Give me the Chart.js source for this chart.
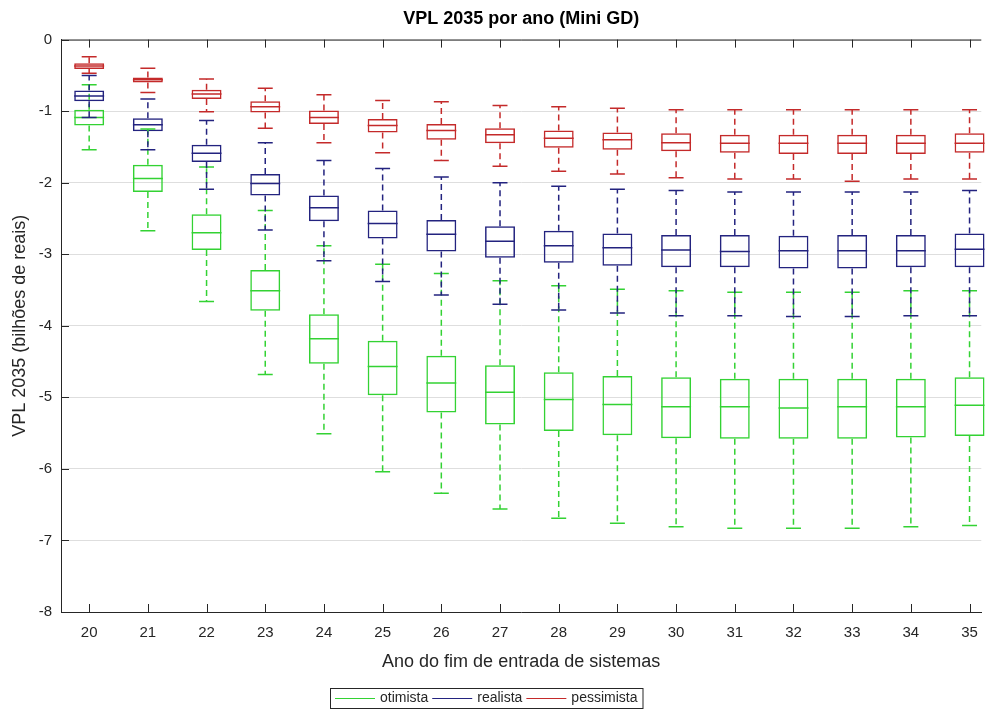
<!DOCTYPE html>
<html>
<head>
<meta charset="utf-8">
<title>VPL 2035 por ano (Mini GD)</title>
<script src="https://cdn.jsdelivr.net/npm/chart.js@4.4.1/dist/chart.umd.min.js"></script>
<style>
    body { margin: 0; background: #fff; }
    #wrap { width: 990px; height: 711px; }
</style>
</head>
<body>
<div id="wrap"><canvas id="boxChart" width="990" height="711"></canvas></div>
<script>
// Ano do fim de entrada de sistemas (eixo x)
const years = [20, 21, 22, 23, 24, 25, 26, 27, 28, 29, 30, 31, 32, 33, 34, 35];
const yTicks = [0, -1, -2, -3, -4, -5, -6, -7, -8];

// otimista (verde)
const otimistaMax = [-0.63, -1.25, -1.78, -2.39, -2.88, -3.14, -3.27, -3.37, -3.44, -3.49, -3.51, -3.53, -3.53, -3.53, -3.51, -3.51];
const otimistaQ3  = [-0.98, -1.75, -2.44, -3.22, -3.84, -4.21, -4.42, -4.55, -4.65, -4.70, -4.72, -4.74, -4.74, -4.74, -4.74, -4.72];
const otimistaMed = [-1.09, -1.94, -2.70, -3.51, -4.18, -4.57, -4.80, -4.93, -5.03, -5.10, -5.13, -5.13, -5.15, -5.13, -5.13, -5.11];
const otimistaQ1  = [-1.20, -2.13, -2.94, -3.79, -4.53, -4.97, -5.21, -5.38, -5.47, -5.53, -5.57, -5.58, -5.58, -5.58, -5.56, -5.54];
const otimistaMin = [-1.54, -2.67, -3.66, -4.68, -5.51, -6.04, -6.34, -6.56, -6.69, -6.76, -6.81, -6.83, -6.83, -6.83, -6.81, -6.79];

// realista (azul)
const realistaMax = [-0.50, -0.83, -1.13, -1.44, -1.69, -1.80, -1.92, -2.00, -2.05, -2.09, -2.11, -2.13, -2.13, -2.13, -2.13, -2.11];
const realistaQ3  = [-0.71, -1.10, -1.47, -1.88, -2.18, -2.39, -2.52, -2.61, -2.67, -2.71, -2.73, -2.73, -2.74, -2.73, -2.73, -2.71];
const realistaMed = [-0.79, -1.19, -1.59, -2.01, -2.35, -2.57, -2.72, -2.82, -2.88, -2.91, -2.94, -2.96, -2.95, -2.95, -2.95, -2.93];
const realistaQ1  = [-0.86, -1.28, -1.71, -2.18, -2.54, -2.78, -2.96, -3.05, -3.12, -3.16, -3.18, -3.18, -3.20, -3.20, -3.18, -3.18];
const realistaMin = [-1.09, -1.54, -2.09, -2.66, -3.09, -3.38, -3.57, -3.70, -3.78, -3.82, -3.86, -3.86, -3.87, -3.87, -3.86, -3.86];

// pessimista (vermelho)
const pessimistaMax = [-0.24, -0.40, -0.55, -0.68, -0.77, -0.85, -0.87, -0.92, -0.94, -0.96, -0.98, -0.98, -0.98, -0.98, -0.98, -0.98];
const pessimistaQ3  = [-0.33, -0.53, -0.70, -0.86, -0.99, -1.11, -1.18, -1.24, -1.27, -1.30, -1.31, -1.33, -1.33, -1.33, -1.33, -1.31];
const pessimistaMed = [-0.37, -0.56, -0.76, -0.94, -1.09, -1.20, -1.27, -1.33, -1.38, -1.40, -1.44, -1.45, -1.45, -1.45, -1.45, -1.45];
const pessimistaQ1  = [-0.41, -0.60, -0.83, -1.02, -1.18, -1.30, -1.40, -1.45, -1.51, -1.54, -1.56, -1.58, -1.60, -1.60, -1.60, -1.58];
const pessimistaMin = [-0.47, -0.74, -1.01, -1.24, -1.44, -1.58, -1.69, -1.77, -1.84, -1.88, -1.93, -1.95, -1.95, -1.98, -1.95, -1.95];

const series = [
    { label: 'otimista',   color: '#33d233', max: otimistaMax,   q3: otimistaQ3,   med: otimistaMed,   q1: otimistaQ1,   min: otimistaMin },
    { label: 'realista',   color: '#23237f', max: realistaMax,   q3: realistaQ3,   med: realistaMed,   q1: realistaQ1,   min: realistaMin },
    { label: 'pessimista', color: '#c42a2a', max: pessimistaMax, q3: pessimistaQ3, med: pessimistaMed, q1: pessimistaQ1, min: pessimistaMin }
];

const FONT = '"Liberation Sans", Arial, Helvetica, sans-serif';
const AXIS_COLOR = '#262626';

Chart.defaults.font.family = FONT;
Chart.defaults.color = AXIS_COLOR;

// whiskers, medians, box frame with inner ticks and the boxed legend
const boxExtras = {
    id: 'boxExtras',
    afterDatasetsDraw(chart) {
        const ctx = chart.ctx;
        const yScale = chart.scales.y;
        series.forEach((s, d) => {
            const meta = chart.getDatasetMeta(d);
            meta.data.forEach((bar, i) => {
                const half = bar.width / 2;
                const cx = bar.x;
                const yMax = yScale.getPixelForValue(s.max[i]);
                const yQ3 = yScale.getPixelForValue(s.q3[i]);
                const yMed = yScale.getPixelForValue(s.med[i]);
                const yQ1 = yScale.getPixelForValue(s.q1[i]);
                const yMin = yScale.getPixelForValue(s.min[i]);
                ctx.save();
                ctx.strokeStyle = s.color;
                ctx.lineWidth = 1.5;
                ctx.setLineDash([6, 4]);
                ctx.beginPath();
                ctx.moveTo(cx, yQ3);
                ctx.lineTo(cx, yMax);
                ctx.moveTo(cx, yQ1);
                ctx.lineTo(cx, yMin);
                ctx.stroke();
                ctx.setLineDash([]);
                ctx.beginPath();
                ctx.moveTo(cx - half / 2, yMax);
                ctx.lineTo(cx + half / 2, yMax);
                ctx.moveTo(cx - half / 2, yMin);
                ctx.lineTo(cx + half / 2, yMin);
                ctx.moveTo(cx - half, yMed);
                ctx.lineTo(cx + half, yMed);
                ctx.stroke();
                ctx.restore();
            });
        });
    },
    afterDraw(chart) {
        const ctx = chart.ctx;
        const area = chart.chartArea;
        const xScale = chart.scales.x;
        const yScale = chart.scales.y;
        const tick = 8;

        ctx.save();
        ctx.strokeStyle = AXIS_COLOR;
        ctx.lineWidth = 1;
        ctx.beginPath();
        // top edge of the box
        ctx.moveTo(area.left, area.top + 0.5);
        ctx.lineTo(area.right, area.top + 0.5);
        // x ticks pointing inward (bottom and top)
        years.forEach(v => {
            const px = Math.round(xScale.getPixelForValue(v)) + 0.5;
            ctx.moveTo(px, area.bottom);
            ctx.lineTo(px, area.bottom - tick);
            ctx.moveTo(px, area.top);
            ctx.lineTo(px, area.top + tick);
        });
        // y ticks pointing inward
        yTicks.forEach(v => {
            const py = Math.round(yScale.getPixelForValue(v)) + 0.5;
            ctx.moveTo(area.left, py);
            ctx.lineTo(area.left + tick, py);
        });
        ctx.stroke();

        // legend box below the axis title
        ctx.font = '14px ' + FONT;
        ctx.textBaseline = 'middle';
        const lineLen = 40, gap = 5, itemGap = 4, pad = 5;
        const widths = series.map(s => lineLen + gap + ctx.measureText(s.label).width);
        const total = widths.reduce((a, b) => a + b, 0) + itemGap * (series.length - 1) + pad * 2;
        const left = Math.round(486 - total / 2);
        const top = 688, h = 20;
        ctx.fillStyle = '#fff';
        ctx.fillRect(left, top, total, h);
        ctx.strokeStyle = AXIS_COLOR;
        ctx.strokeRect(left + 0.5, top + 0.5, total, h);
        let x = left + pad;
        const cy = top + h / 2 + 0.5;
        series.forEach((s, k) => {
            ctx.strokeStyle = s.color;
            ctx.beginPath();
            ctx.moveTo(x, cy);
            ctx.lineTo(x + lineLen, cy);
            ctx.stroke();
            ctx.fillStyle = AXIS_COLOR;
            ctx.fillText(s.label, x + lineLen + gap, cy);
            x += widths[k] + itemGap;
        });
        ctx.restore();
    }
};

const ctx = document.getElementById('boxChart').getContext('2d');
new Chart(ctx, {
    type: 'bar',
    data: {
        datasets: series.map(s => ({
            label: s.label,
            data: years.map((yr, i) => ({ x: yr, y: [s.q1[i], s.q3[i]] })),
            borderColor: s.color,
            backgroundColor: 'rgba(0,0,0,0)',
            borderWidth: 1.5,
            borderSkipped: false,
            grouped: false,
            clip: false,
            categoryPercentage: 1,
            barPercentage: 0.51
        }))
    },
    options: {
        responsive: false,
        animation: false,
        layout: { padding: { left: 0, right: 7, top: 0, bottom: 0 } },
        plugins: {
            legend: { display: false },
            tooltip: { enabled: false },
            title: {
                display: true,
                fullSize: false,
                text: 'VPL 2035 por ano (Mini GD)',
                color: '#000',
                font: { size: 18, weight: 'bold' },
                padding: { top: 8, bottom: 10 }
            }
        },
        scales: {
            x: {
                type: 'linear',
                offset: false,
                min: 19.52,
                max: 35.2,
                afterBuildTicks: s => { s.ticks = years.map(v => ({ value: v })); },
                afterFit: s => { s.height = 99; },
                grid: { display: false, drawTicks: false },
                border: { display: true, color: AXIS_COLOR },
                ticks: { font: { size: 15 }, padding: 12, color: AXIS_COLOR, maxRotation: 0 },
                title: {
                    display: true,
                    text: 'Ano do fim de entrada de sistemas',
                    font: { size: 18 },
                    color: AXIS_COLOR,
                    padding: { top: 4, bottom: 38 }
                }
            },
            y: {
                min: -8,
                max: 0,
                afterBuildTicks: s => { s.ticks = yTicks.map(v => ({ value: v })); },
                afterFit: s => { s.width = 61; },
                grid: { color: '#dedede', drawTicks: false },
                border: { display: true, color: AXIS_COLOR },
                ticks: { font: { size: 15 }, padding: 9, color: AXIS_COLOR },
                title: {
                    display: true,
                    text: 'VPL 2035 (bilhões de reais)',
                    font: { size: 18 },
                    color: AXIS_COLOR,
                    padding: { top: 9, bottom: 0 }
                }
            }
        }
    },
    plugins: [boxExtras]
});
</script>
</body>
</html>
